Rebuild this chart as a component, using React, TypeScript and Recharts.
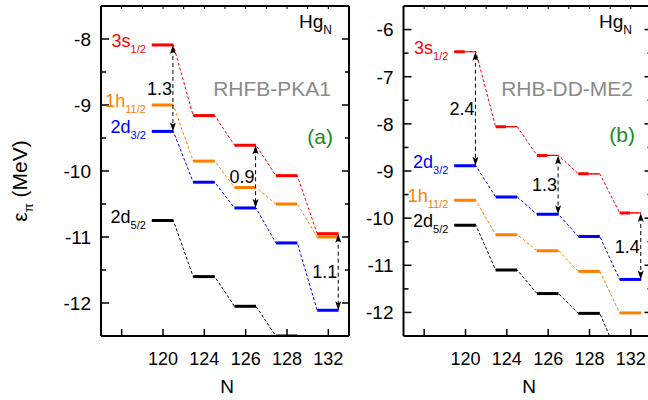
import React from 'react'
import { ComposedChart, Line, XAxis, YAxis, ReferenceLine, ReferenceDot } from 'recharts'

// neutron numbers shown on the x axis (tick 1 is an unlabeled extra tick)
const nValues = [120, 124, 126, 128, 132]
const xTicks = [1, 2, 3, 4, 5, 6]
const xTickLabels = ['', '120', '124', '126', '128', '132']
const xMinor = [1.5, 2.5, 3.5, 4.5, 5.5]
const xDomain: [number, number] = [0.5, 6.5]

// (a) RHFB-PKA1 proton single-particle energies (MeV)
const s12A = [-8.09, -9.16, -9.61, -10.07, -10.95]
const h112A = [-9.0, -9.85, -10.25, -10.5, -11.0]
const d32A = [-9.4, -10.17, -10.56, -11.09, -12.11]
const d52A = [-10.75, -11.6, -12.05, -12.5, -13.4]

// (b) RHB-DD-ME2
const s12B = [-6.47, -8.06, -8.67, -9.06, -9.89]
const d32B = [-8.89, -9.55, -9.92, -10.39, -11.3]
const h112B = [-9.62, -10.35, -10.69, -11.13, -12.01]
const d52B = [-10.15, -11.1, -11.6, -12.02, -13.0]

// 3s1/2 - 2d3/2 gaps marked with arrows
const gapNA = [120, 126, 132]
const gapLabelsA = ['1.3', '0.9', '1.1']
const gapNB = [120, 126, 132]
const gapLabelsB = ['2.4', '1.3', '1.4']

const yMajorA = [-12, -11, -10, -9, -8]
const yMinorA = [-11.5, -10.5, -9.5, -8.5]
const yMajorB = [-12, -11, -10, -9, -8, -7, -6]
const yMinorB = [-11.5, -10.5, -9.5, -8.5, -7.5, -6.5]

const FONT = "'Liberation Sans', Arial, sans-serif"
const RED = '#ff0000'
const ORANGE = '#ff8000'
const BLUE = '#0000ff'
const BLACK = '#000000'
const HALF_L = 0.27
const HALF_R = 0.25
const ARROW_DX = 0.24

const pos = (n: number) => nValues.indexOf(n) + 2

type Level = {
  key: string
  values: number[]
  color: string
  name: string
  sub: string
  halfThick?: boolean
}

const yTickText = (props: any) => {
  const { x, y, payload } = props
  if (!Number.isInteger(payload.value)) return <g />
  return (
    <text x={x} y={y} dy="0.36em" textAnchor="end" fontSize={19} fontFamily={FONT} fill="#000">
      {payload.value}
    </text>
  )
}

const xTickText = (props: any) => {
  const { x, y, payload } = props
  return (
    <text x={x} y={y + 29} textAnchor="middle" fontSize={18} fontFamily={FONT} fill="#000">
      {xTickLabels[payload.value - 1]}
    </text>
  )
}

// inward tick marks on the left and right frame sides
const yMarks = (major: boolean) => (s: any) => {
  const xa = Math.min(s.x1, s.x2)
  const xb = Math.max(s.x1, s.x2)
  return (
    <g>
      <line x1={xa} y1={s.y1} x2={xa + (major ? 8 : 5)} y2={s.y1} stroke="#000" strokeWidth={1.5} />
      <line x1={xb} y1={s.y1} x2={xb - (major ? 7 : 4)} y2={s.y1} stroke="#000" strokeWidth={1.5} />
    </g>
  )
}

// inward tick marks on the bottom and top frame sides
const xMarks = (major: boolean) => (s: any) => {
  const ya = Math.min(s.y1, s.y2)
  const yb = Math.max(s.y1, s.y2)
  return (
    <g>
      {major && <line x1={s.x1} y1={yb} x2={s.x1} y2={yb - 7} stroke="#000" strokeWidth={1.5} />}
      <line x1={s.x1} y1={ya} x2={s.x1} y2={ya + 3} stroke="#000" strokeWidth={1} />
    </g>
  )
}

const levelLabel = (lv: Level) => (p: any) => (
  <text x={p.cx - 6} y={p.cy + 2} textAnchor="end" fill={lv.color} fontSize={18} fontFamily={FONT}>
    {lv.name}
    <tspan fontSize={11} dy={6}>{lv.sub}</tspan>
  </text>
)

const arrowShape = (label: string) => (p: any) => {
  const { x1, y1, y2 } = p
  const top = Math.min(y1, y2)
  const bot = Math.max(y1, y2)
  const x = x1
  return (
    <g>
      <line x1={x} y1={top + 4} x2={x} y2={bot - 4} stroke="#000" strokeWidth={1} strokeDasharray="4 3" />
      <path d={`M${x},${top} L${x - 3},${top + 9} L${x},${top + 7} L${x + 3},${top + 9} Z`} fill="#000" />
      <path d={`M${x},${bot} L${x - 3},${bot - 9} L${x},${bot - 7} L${x + 3},${bot - 9} Z`} fill="#000" />
      <text x={x - 1} y={(top + bot) / 2} dy="0.36em" textAnchor="end" fontSize={18} fontFamily={FONT} fill="#000">
        {label}
      </text>
    </g>
  )
}

function levelElements(lv: Level) {
  const pts = lv.values.flatMap((v, i) => [
    { x: i + 2 - HALF_L, y: v },
    { x: i + 2 + HALF_R, y: v },
  ])
  const els: React.ReactNode[] = [
    <Line
      key={lv.key + '-dash'}
      data={pts}
      dataKey="y"
      type="linear"
      stroke={lv.color}
      strokeWidth={1}
      strokeDasharray="3 2"
      dot={false}
      activeDot={false}
      isAnimationActive={false}
    />,
  ]
  lv.values.forEach((v, i) => {
    const a = i + 2 - HALF_L
    const b = i + 2 + HALF_R
    if (lv.halfThick) {
      els.push(
        <ReferenceLine key={`${lv.key}-t${i}`} segment={[{ x: a, y: v }, { x: b, y: v }]}
          stroke={lv.color} strokeWidth={1.2} ifOverflow="hidden" />,
        <ReferenceLine key={`${lv.key}-s${i}`} segment={[{ x: a, y: v }, { x: i + 2 - 0.02, y: v }]}
          stroke={lv.color} strokeWidth={3} ifOverflow="hidden" />,
      )
    } else {
      els.push(
        <ReferenceLine key={`${lv.key}-s${i}`} segment={[{ x: a, y: v }, { x: b, y: v }]}
          stroke={lv.color} strokeWidth={3} ifOverflow="hidden" />,
      )
    }
  })
  els.push(
    <ReferenceDot key={lv.key + '-lbl'} x={2 - HALF_L} y={lv.values[0]} r={0}
      ifOverflow="visible" shape={levelLabel(lv)} />,
  )
  return els
}

type PanelProps = {
  left: number
  width: number
  yWidth: number
  rWidth: number
  domain: [number, number]
  majors: number[]
  minors: number[]
  levels: Level[]
  upper: number[]
  lower: number[]
  gapN: number[]
  gapLabels: string[]
}

function Panel(p: PanelProps) {
  const yTicks = [...p.majors, ...p.minors]
  const [y0, y1] = p.domain
  const [x0, x1] = xDomain
  return (
    <div style={{ position: 'absolute', left: p.left, top: 0, width: p.width, height: 400 }}>
      <ComposedChart width={p.width} height={400} margin={{ top: 6, right: 0, bottom: 0, left: 0 }}>
        <XAxis type="number" dataKey="x" domain={xDomain} allowDataOverflow ticks={xTicks}
          interval={0} height={64} tickSize={0} tickMargin={0} tickLine={false}
          axisLine={{ stroke: '#000', strokeWidth: 2 }} tick={xTickText} />
        <YAxis type="number" domain={p.domain} allowDataOverflow ticks={yTicks} interval={0}
          width={p.yWidth} tickSize={0} tickMargin={10} tickLine={false}
          axisLine={{ stroke: '#000', strokeWidth: 2 }} tick={yTickText} />
        <YAxis yAxisId="r" orientation="right" type="number" domain={p.domain} allowDataOverflow
          ticks={p.majors} width={p.rWidth} tickLine={false} tick={false}
          axisLine={{ stroke: '#000', strokeWidth: 2 }} />
        {/* top side of the frame */}
        <ReferenceLine segment={[{ x: x0, y: y1 }, { x: x1, y: y1 }]} stroke="#000" strokeWidth={2}
          ifOverflow="visible" />
        {p.majors.map((v) => (
          <ReferenceLine key={'ym' + v} segment={[{ x: x0, y: v }, { x: x1, y: v }]}
            ifOverflow="visible" shape={yMarks(true)} />
        ))}
        {p.minors.map((v) => (
          <ReferenceLine key={'yn' + v} segment={[{ x: x0, y: v }, { x: x1, y: v }]}
            ifOverflow="visible" shape={yMarks(false)} />
        ))}
        {xTicks.map((t) => (
          <ReferenceLine key={'xm' + t} segment={[{ x: t, y: y0 }, { x: t, y: y1 }]}
            ifOverflow="visible" shape={xMarks(true)} />
        ))}
        {xMinor.map((t) => (
          <ReferenceLine key={'xn' + t} segment={[{ x: t, y: y0 }, { x: t, y: y1 }]}
            ifOverflow="visible" shape={xMarks(false)} />
        ))}
        {p.levels.flatMap(levelElements)}
        {p.gapN.map((n, i) => {
          const k = nValues.indexOf(n)
          const x = pos(n) + ARROW_DX
          return (
            <ReferenceLine key={'gap' + i} segment={[{ x, y: p.upper[k] }, { x, y: p.lower[k] }]}
              ifOverflow="visible" shape={arrowShape(p.gapLabels[i])} />
          )
        })}
      </ComposedChart>
    </div>
  )
}

const txt = { fontFamily: FONT }

export default function App() {
  const levelsA: Level[] = [
    { key: 'd52', values: d52A, color: BLACK, name: '2d', sub: '5/2' },
    { key: 'd32', values: d32A, color: BLUE, name: '2d', sub: '3/2' },
    { key: 'h112', values: h112A, color: ORANGE, name: '1h', sub: '11/2' },
    { key: 's12', values: s12A, color: RED, name: '3s', sub: '1/2' },
  ]
  const levelsB: Level[] = [
    { key: 'd52', values: d52B, color: BLACK, name: '2d', sub: '5/2' },
    { key: 'h112', values: h112B, color: ORANGE, name: '1h', sub: '11/2' },
    { key: 'd32', values: d32B, color: BLUE, name: '2d', sub: '3/2' },
    { key: 's12', values: s12B, color: RED, name: '3s', sub: '1/2', halfThick: true },
  ]
  return (
    <div style={{ position: 'absolute', left: 0, top: 0, width: 648, height: 400, overflow: 'hidden', background: '#fff' }}>
      <Panel left={0} width={360} yWidth={101} rWidth={11} domain={[-12.5, -7.5]}
        majors={yMajorA} minors={yMinorA} levels={levelsA} upper={s12A} lower={d32A}
        gapN={gapNA} gapLabels={gapLabelsA} />
      <Panel left={360} width={300} yWidth={43.5} rWidth={8.5} domain={[-12.5, -5.5]}
        majors={yMajorB} minors={yMinorB} levels={levelsB} upper={s12B} lower={d32B}
        gapN={gapNB} gapLabels={gapLabelsB} />
      <svg width={648} height={400} style={{ position: 'absolute', left: 0, top: 0, pointerEvents: 'none' }}>
        <text transform="translate(27,181) rotate(-90)" textAnchor="middle" fontSize={21} style={txt} fill="#000">
          ε<tspan fontSize={13} dy={6}>π</tspan>
          <tspan dy={-6}> (MeV)</tspan>
        </text>
        <text x={332} y={28} textAnchor="end" fontSize={19} style={txt} fill="#000">
          Hg<tspan fontSize={12} dy={6}>N</tspan>
        </text>
        <text x={632} y={28} textAnchor="end" fontSize={19} style={txt} fill="#000">
          Hg<tspan fontSize={12} dy={6}>N</tspan>
        </text>
        <text x={331} y={96} textAnchor="end" fontSize={21} style={txt} fill="#8a8a8a">RHFB-PKA1</text>
        <text x={633} y={96} textAnchor="end" fontSize={21} style={txt} fill="#8a8a8a">RHB-DD-ME2</text>
        <text x={333} y={144} textAnchor="end" fontSize={21} style={txt} fill="#1a8c1a">(a)</text>
        <text x={635} y={142} textAnchor="end" fontSize={21} style={txt} fill="#1a8c1a">(b)</text>
        <text x={227} y={393} textAnchor="middle" fontSize={19} style={txt} fill="#000">N</text>
        <text x={529} y={393} textAnchor="middle" fontSize={19} style={txt} fill="#000">N</text>
      </svg>
    </div>
  )
}
